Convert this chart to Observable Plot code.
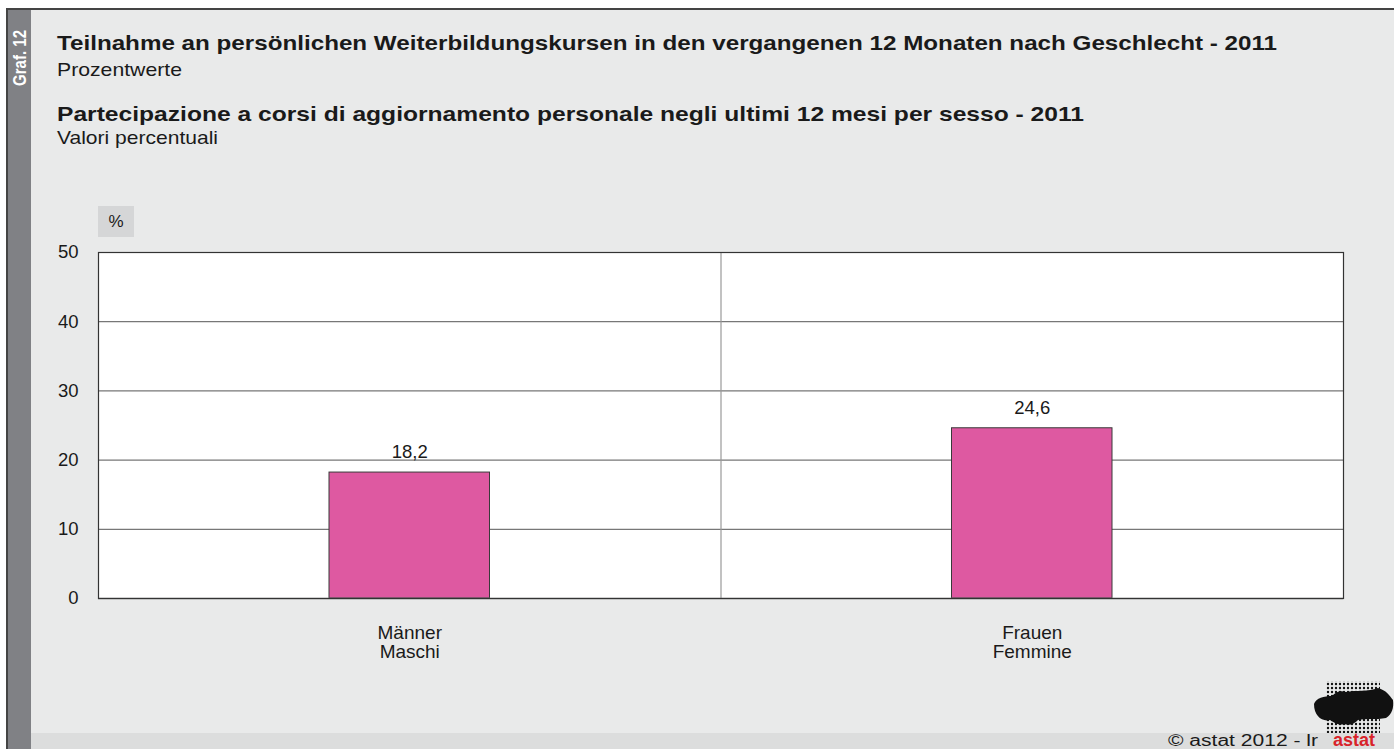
<!DOCTYPE html>
<html>
<head>
<meta charset="utf-8">
<script src="https://cdn.jsdelivr.net/npm/d3@7"></script>
<script src="https://cdn.jsdelivr.net/npm/@observablehq/plot@0.6"></script>
<style>
  html, body { margin: 0; padding: 0; background: #ffffff; }
  #page { position: relative; width: 1394px; height: 749px; overflow: hidden; font-family: "Liberation Sans", Arial, sans-serif; color: #1a1a1a; }
  .abs { position: absolute; }
</style>
</head>
<body>
<div id="page">
  <div class="abs" style="left:7px;top:9px;width:1387px;height:740px;background:#e9eaea;"></div>
  <div class="abs" style="left:7px;top:8px;width:1387px;height:2px;background:#444;"></div>
  <div class="abs" style="left:6px;top:8px;width:2px;height:741px;background:#444;"></div>
  <div class="abs" style="left:8px;top:10px;width:23px;height:739px;background:#808185;"></div>
  <div class="abs" style="left:31px;top:733px;width:1363px;height:16px;background:#dcdddd;"></div>
  <div class="abs" id="unit" style="left:98px;top:206px;width:36px;height:31px;background:#d5d6d7;font-size:17px;line-height:32px;text-align:center;"></div>
  <div class="abs" id="plot" style="left:0;top:0;"></div>
  <svg class="abs" id="texts" style="left:0;top:0;" width="1394" height="749" font-family="Liberation Sans, Arial, sans-serif">
    <text id="graf" transform="translate(26,86) rotate(-90)" fill="#ffffff" font-weight="bold" font-size="19" textLength="56" lengthAdjust="spacingAndGlyphs"></text>
    <text id="t1" x="57" y="50" fill="#1a1a1a" font-weight="bold" font-size="21" textLength="1220" lengthAdjust="spacingAndGlyphs"></text>
    <text id="s1" x="57" y="76" fill="#1a1a1a" font-size="19" textLength="125" lengthAdjust="spacingAndGlyphs"></text>
    <text id="t2" x="57" y="121" fill="#1a1a1a" font-weight="bold" font-size="21" textLength="1027" lengthAdjust="spacingAndGlyphs"></text>
    <text id="s2" x="57" y="144" fill="#1a1a1a" font-size="19" textLength="161" lengthAdjust="spacingAndGlyphs"></text>
    <text id="copy" x="1168" y="746" fill="#1a1a1a" font-size="16" textLength="150" lengthAdjust="spacingAndGlyphs"></text>
  </svg>
  <svg class="abs" style="left:1310px;top:678px;" width="84" height="71">
    <defs>
      <pattern id="dots" width="4" height="4" patternUnits="userSpaceOnUse">
        <circle cx="2" cy="2" r="1.2" fill="#111"/>
      </pattern>
    </defs>
    <rect x="16" y="3" width="54" height="52" fill="url(#dots)"/>
    <path d="M4,26 C6,20 14,18 22,18 C26,14 30,12 36,14 C46,12 58,14 68,10 C76,12 80,18 83,22 C84,30 82,36 76,40 C66,42 56,40 48,42 C44,46 40,48 34,46 C28,48 24,44 20,42 C12,44 4,38 4,26 Z" fill="#111"/>
    <text x="44" y="68" text-anchor="middle" fill="#d8232a" font-weight="bold" font-size="18" font-family="Liberation Sans, Arial, sans-serif">astat</text>
  </svg>
</div>
<script>
const titleDe = "Teilnahme an persönlichen Weiterbildungskursen in den vergangenen 12 Monaten nach Geschlecht - 2011";
const subtitleDe = "Prozentwerte";
const titleIt = "Partecipazione a corsi di aggiornamento personale negli ultimi 12 mesi per sesso - 2011";
const subtitleIt = "Valori percentuali";
const graphLabel = "Graf. 12";
const unitLabel = "%";
const copyright = "© astat 2012 - lr";

const categories = ["Männer\nMaschi", "Frauen\nFemmine"];
const values = [18.2, 24.6];
const yTicks = [0, 10, 20, 30, 40, 50];
const gridValues = [10, 20, 30, 40];

document.getElementById("t1").textContent = titleDe;
document.getElementById("s1").textContent = subtitleDe;
document.getElementById("t2").textContent = titleIt;
document.getElementById("s2").textContent = subtitleIt;
document.getElementById("graf").textContent = graphLabel;
document.getElementById("unit").textContent = unitLabel;
document.getElementById("copy").textContent = copyright;

const data = categories.map((c, i) => ({cat: c, i, value: values[i]}));
const fmt = v => v.toFixed(1).replace(".", ",");

const chart = Plot.plot({
  width: 1394,
  height: 749,
  marginLeft: 98,
  marginRight: 51,
  marginTop: 252,
  marginBottom: 151,
  style: {background: "transparent", fontFamily: "Liberation Sans, Arial, sans-serif", fontSize: "18px", color: "#1a1a1a"},
  x: {domain: [0, categories.length], axis: null},
  y: {domain: [0, 50], axis: null},
  marks: [
    Plot.frame({fill: "#ffffff", stroke: null}),
    Plot.ruleY(gridValues, {stroke: "#777", strokeWidth: 1.2, strokeOpacity: 1}),
    Plot.ruleX(d3.range(1, categories.length), {stroke: "#999", strokeWidth: 1.2}),
    Plot.rectY(data, {x1: d => d.i, x2: d => d.i + 1, y: "value", insetLeft: 231, insetRight: 231, fill: "#de59a1", stroke: "#3a3a3a", strokeWidth: 1}),
    Plot.text(data, {x: d => d.i + 0.5, y: "value", text: d => fmt(d.value), dy: -20, fontSize: 18.5, fill: "#1a1a1a"}),
    Plot.ruleY([0], {stroke: "#888", strokeWidth: 1.5}),
    Plot.frame({stroke: "#333", strokeWidth: 1.2}),
    Plot.axisY(yTicks, {tickSize: 0, tickPadding: 20, fontSize: 18.5, label: null, fill: "#1a1a1a"}),
    Plot.axisX(data.map(d => d.i + 0.5), {tickSize: 0, tickPadding: 27, fontSize: 19, label: null, fill: "#1a1a1a", tickFormat: v => categories[Math.floor(v)], lineHeight: 1.0})
  ]
});
document.getElementById("plot").appendChild(chart);
</script>
</body>
</html>
